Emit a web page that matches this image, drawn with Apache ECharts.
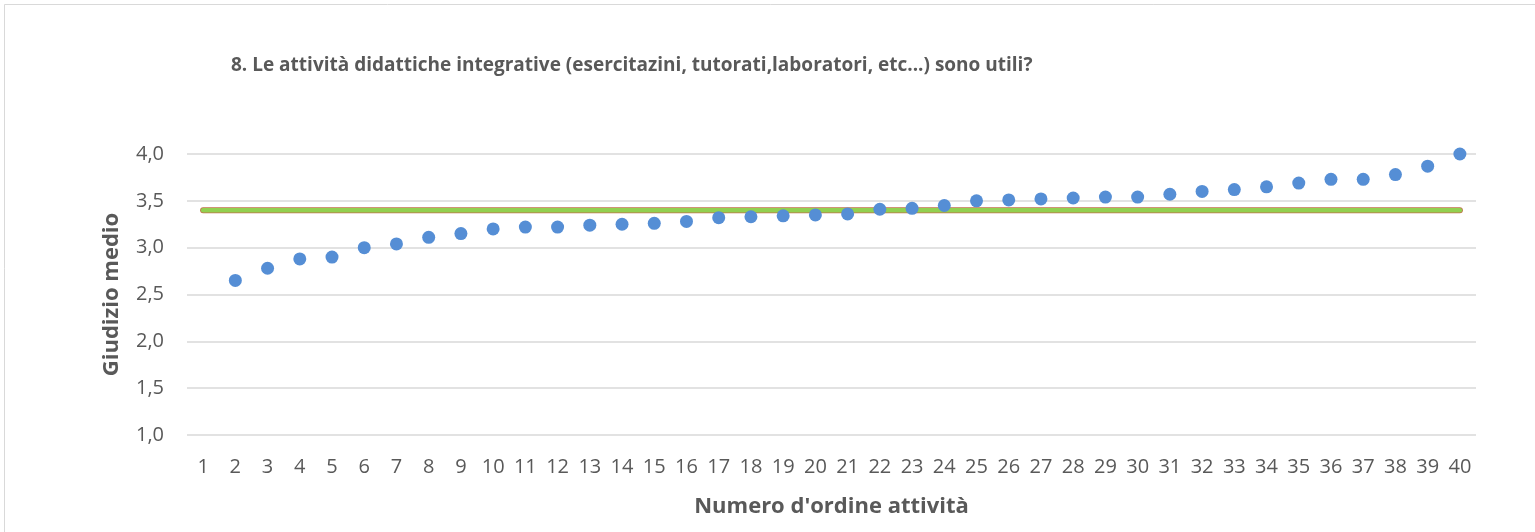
<!DOCTYPE html>
<html>
<head>
<meta charset="utf-8">
<title>Giudizio medio</title>
<script src="https://cdn.jsdelivr.net/npm/echarts@6/dist/echarts.min.js"></script>
<style>
    html, body { margin: 0; padding: 0; background: #ffffff; }
    #chart { width: 1535px; height: 532px; }
</style>
</head>
<body>
<div id="chart"></div>
<script>
// Dati
const categorie = ['1','2','3','4','5','6','7','8','9','10','11','12','13','14','15','16','17','18','19','20',
    '21','22','23','24','25','26','27','28','29','30','31','32','33','34','35','36','37','38','39','40'];

// giudizio medio per attività (la 1 non ha punto)
const giudizi = [null, 2.65, 2.78, 2.88, 2.90, 3.00, 3.04, 3.11, 3.15, 3.20, 3.22, 3.22, 3.24, 3.25, 3.26,
    3.28, 3.32, 3.33, 3.34, 3.35, 3.36, 3.41, 3.42, 3.45, 3.50, 3.51, 3.52, 3.53, 3.54, 3.54,
    3.57, 3.60, 3.62, 3.65, 3.69, 3.73, 3.73, 3.78, 3.87, 4.00];

// media generale, tracciata dalla prima all'ultima attività
const mediaGenerale = [['1', 3.40], ['40', 3.40]];

const yTicks = { min: 1, max: 4, interval: 0.5 };

const titolo = "8. Le attività didattiche integrative (esercitazini, tutorati,laboratori, etc...) sono utili?";

const textColor = '#595959';
const font = '"Open Sans", "Liberation Sans", sans-serif';

const chart = echarts.init(document.getElementById('chart'));

chart.setOption({
    backgroundColor: '#ffffff',
    animation: false,
    textStyle: { fontFamily: font },
    graphic: [{
        type: 'rect',
        shape: { x: 4.5, y: 4.5, width: 1560, height: 560 },
        style: { fill: 'none', stroke: '#d9d9d9', lineWidth: 1 },
        silent: true
    }],
    title: {
        text: titolo,
        left: 226,
        top: 51,
        textStyle: { color: textColor, fontSize: 19, fontWeight: 'bold', fontFamily: font }
    },
    grid: { left: 187, right: 59, top: 154, bottom: 97 },
    xAxis: {
        type: 'category',
        data: categorie,
        boundaryGap: true,
        axisLine: { show: false },
        axisTick: { show: false },
        axisLabel: { color: textColor, fontSize: 20, margin: 22, interval: 0 },
        name: "Numero d'ordine attività",
        nameLocation: 'middle',
        nameGap: 72,
        nameTextStyle: { color: textColor, fontSize: 22, fontWeight: 'bold', verticalAlign: 'middle' }
    },
    yAxis: {
        type: 'value',
        min: yTicks.min,
        max: yTicks.max,
        interval: yTicks.interval,
        axisLine: { show: false },
        axisTick: { show: false },
        splitLine: { lineStyle: { color: '#d9d9d9', width: 1.5 } },
        axisLabel: {
            color: textColor,
            fontSize: 20,
            margin: 23,
            formatter: v => v.toFixed(1).replace('.', ',')
        },
        name: 'Giudizio medio',
        nameLocation: 'middle',
        nameGap: 75,
        nameRotate: 90,
        nameTextStyle: { color: textColor, fontSize: 22, fontWeight: 'bold', verticalAlign: 'middle' }
    },
    series: [
        {
            name: 'bordo media',
            type: 'line',
            data: mediaGenerale,
            symbol: 'none',
            lineStyle: { color: '#c0704a', width: 6, cap: 'round' },
            z: 2
        },
        {
            name: 'media',
            type: 'line',
            data: mediaGenerale,
            symbol: 'none',
            lineStyle: { color: '#92d050', width: 4.5, cap: 'round' },
            z: 3
        },
        {
            name: 'giudizio',
            type: 'scatter',
            data: giudizi,
            symbolSize: 13,
            itemStyle: { color: '#558ed5', opacity: 1 },
            z: 4
        }
    ]
});
</script>
</body>
</html>
